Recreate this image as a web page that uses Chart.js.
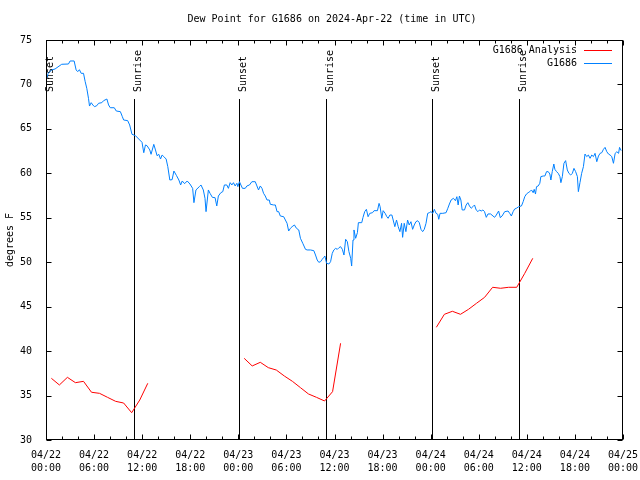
<!DOCTYPE html>
<html>
<head>
<meta charset="utf-8">
<script src="https://cdn.jsdelivr.net/npm/chart.js@4"></script>
<style>
  body { margin: 0; background: #fff; }
</style>
</head>
<body>
<canvas id="c" width="640" height="480"></canvas>
<script>
// hours since 04/22 00:00 UTC
var blueHours = [0.00,0.28,0.70,1.13,1.96,2.80,3.01,3.51,3.76,3.96,4.17,4.39,4.68,4.89,5.09,5.30,5.43,5.64,5.84,6.05,6.34,6.56,6.97,7.18,7.60,7.81,8.02,8.52,8.77,9.28,9.53,9.69,10.19,10.44,10.73,11.16,11.57,11.98,12.20,12.41,12.61,12.95,13.11,13.45,13.66,13.86,14.08,14.29,14.49,14.70,14.99,15.20,15.45,15.74,15.96,16.29,16.58,16.80,17.00,17.30,17.62,17.96,18.30,18.46,18.71,19.13,19.34,19.63,19.84,19.97,20.26,20.47,20.76,21.10,21.31,21.51,21.81,22.06,22.26,22.56,22.76,22.98,23.19,23.39,23.60,23.82,23.94,24.14,24.32,24.52,24.86,25.07,25.39,25.69,26.11,26.32,26.52,26.74,26.95,27.15,27.36,27.58,27.86,27.99,28.40,28.62,28.83,29.03,29.24,29.66,29.87,30.08,30.28,30.50,30.71,31.00,31.25,31.54,31.75,32.04,32.38,32.59,33.00,33.42,33.63,33.84,34.04,34.26,34.47,34.67,34.80,35.01,35.30,35.51,35.72,35.92,36.14,36.35,36.55,36.76,36.98,37.18,37.39,37.60,37.80,38.02,38.14,38.31,38.43,38.64,38.86,38.98,39.40,39.56,39.77,39.98,40.19,40.40,40.74,40.94,41.36,41.56,41.69,41.90,42.07,42.32,42.53,42.69,42.91,43.16,43.32,43.53,43.74,43.95,44.16,44.37,44.50,44.70,44.91,45.12,45.32,45.54,45.75,45.95,46.16,46.38,46.58,46.79,47.00,47.20,47.42,47.63,47.83,48.04,48.26,48.46,48.67,48.88,49.01,49.17,49.51,49.92,50.14,50.34,50.55,50.84,51.09,51.27,51.43,51.59,51.77,51.93,52.22,52.43,52.64,52.84,53.06,53.27,53.47,53.68,53.90,54.10,54.31,54.52,54.72,54.94,55.15,55.48,55.78,55.98,56.19,56.48,56.69,56.91,57.24,57.66,57.86,58.07,58.29,58.49,58.70,58.99,59.33,59.54,59.74,59.95,60.16,60.37,60.58,60.79,60.92,61.08,61.21,61.42,61.62,61.75,62.04,62.25,62.46,62.67,62.87,63.00,63.17,63.37,63.50,63.71,63.92,64.13,64.25,64.43,64.63,64.84,65.05,65.25,65.47,65.68,65.88,66.09,66.31,66.43,66.63,66.84,67.06,67.26,67.47,67.68,67.89,68.10,68.31,68.51,68.73,68.94,69.14,69.35,69.56,69.76,69.98,70.19,70.39,70.60,70.81,71.02,71.23,71.45,71.57,71.77];
var blueValues = [70.50,71.25,71.63,71.74,72.27,72.30,72.64,72.64,71.63,71.44,71.66,71.25,71.25,70.31,69.56,68.44,67.57,67.95,67.69,67.50,67.61,67.88,67.95,68.17,68.36,67.69,67.38,67.38,67.01,66.94,66.37,66.00,65.93,65.44,64.39,64.24,63.86,63.49,62.32,63.19,63.11,62.63,62.14,63.26,62.63,61.98,62.14,61.61,62.06,61.88,61.61,60.75,59.25,59.29,60.26,59.74,59.25,58.69,59.14,58.84,59.14,58.80,58.31,56.70,58.13,58.50,58.69,58.13,57.19,55.69,58.13,57.75,57.30,57.26,56.33,57.45,57.82,57.94,58.69,58.69,58.31,58.95,58.69,58.95,58.58,58.88,58.50,59.06,58.69,58.31,58.31,58.58,58.69,59.06,59.06,58.58,58.13,58.58,58.31,57.75,57.45,57.00,57.00,56.52,56.44,56.44,55.69,55.69,55.20,55.12,54.75,54.38,53.51,53.82,54.00,54.19,53.82,53.63,52.69,52.13,51.45,51.38,51.38,51.30,50.81,50.25,49.99,50.06,50.33,50.55,50.70,49.88,49.80,50.06,51.00,51.38,51.56,51.45,51.63,51.75,51.45,50.81,52.58,52.31,51.19,50.44,49.57,52.50,53.63,52.69,53.33,54.45,54.45,55.05,55.69,55.95,55.12,55.50,55.57,55.80,55.80,56.62,56.25,54.94,55.80,55.50,55.12,54.94,55.31,55.31,54.75,54.00,54.75,54.00,53.44,54.38,52.80,54.38,53.44,54.75,54.19,54.56,53.70,54.19,54.56,54.67,54.45,53.70,53.44,53.70,54.38,55.50,55.57,55.69,55.50,55.95,55.50,55.39,54.83,55.50,55.50,55.57,56.07,56.55,57.00,57.19,56.92,57.37,56.44,57.45,57.00,55.88,55.88,56.44,56.70,56.33,56.07,56.25,56.44,55.88,55.69,55.88,55.76,55.88,55.69,55.05,55.43,55.43,55.20,55.05,55.31,55.76,55.01,55.20,55.69,55.76,55.50,55.20,55.69,55.99,56.07,56.25,56.33,56.81,57.37,57.67,57.82,57.94,58.13,57.82,58.20,57.67,58.50,58.58,58.88,59.63,59.70,59.70,60.19,60.19,59.93,59.25,60.19,61.05,60.45,60.19,60.00,59.63,58.95,59.63,61.13,61.43,60.38,60.00,59.81,60.00,60.56,60.19,59.63,57.94,58.95,60.00,60.75,62.17,61.88,62.06,61.69,62.06,61.88,62.25,61.31,61.95,62.25,62.32,62.70,62.92,62.43,62.17,62.06,61.88,61.13,62.25,62.43,62.25,62.92,62.55];

var redHoursA = [0.67,1.67,2.67,3.67,4.68,5.68,6.68,7.68,8.69,9.69,10.69,11.70,12.70];
var redValuesA = [36.94,36.19,37.05,36.45,36.60,35.37,35.25,34.80,34.35,34.16,33.07,34.50,36.38];
var redHoursB = [24.73,25.73,26.74,27.74,28.74,29.74,30.75,31.75,32.75,33.75,34.76,35.76,36.76];
var redValuesB = [39.19,38.33,38.74,38.14,37.87,37.20,36.60,35.89,35.18,34.80,34.39,35.44,40.88];
var redHoursC = [48.71,49.71,50.71,51.72,52.72,53.72,54.73,55.73,56.73,57.73,58.74,59.74,60.74];
var redValuesC = [42.68,44.14,44.48,44.14,44.70,45.38,46.05,47.18,47.07,47.18,47.18,48.75,50.44];

var sunsetHours = [0.05, 24.14, 48.20];
var sunriseHours = [10.98, 34.92, 58.99];

var yTicks = [30,35,40,45,50,55,60,65,70,75];

var FONT = "'DejaVu Sans Mono', 'Liberation Mono', monospace";

function pts(hours, vals) {
  return hours.map(function (h, i) { return { x: h, y: vals[i] }; });
}

var redPoints = pts(redHoursA, redValuesA)
  .concat([{ x: 18, y: null }])
  .concat(pts(redHoursB, redValuesB))
  .concat([{ x: 42, y: null }])
  .concat(pts(redHoursC, redValuesC));

function pad(n) { return (n < 10 ? '0' : '') + n; }

// gnuplot style extras: inward ticks, frame, sun lines, legend, titles
var overlay = {
  id: 'overlay',
  beforeDatasetsDraw: function (chart) {
    var c = chart.ctx, a = chart.chartArea, xs = chart.scales.x;
    c.save();
    c.strokeStyle = '#000';
    c.lineWidth = 1;
    c.fillStyle = '#000';
    c.font = '10px ' + FONT;
    function mark(h, name) {
      var px = Math.round(xs.getPixelForValue(h)) + 0.5;
      c.beginPath();
      c.moveTo(px, 99);
      c.lineTo(px, a.bottom);
      c.stroke();
      c.save();
      c.translate(px + 6, 92);
      c.rotate(-Math.PI / 2);
      c.textAlign = 'left';
      c.textBaseline = 'alphabetic';
      c.fillText(name, 0, 0);
      c.restore();
    }
    sunsetHours.forEach(function (h) { mark(h, 'Sunset'); });
    sunriseHours.forEach(function (h) { mark(h, 'Sunrise'); });
    c.restore();
  },
  afterDraw: function (chart) {
    var c = chart.ctx, a = chart.chartArea, xs = chart.scales.x, ys = chart.scales.y;
    c.save();
    c.strokeStyle = '#000';
    c.lineWidth = 1;
    var L = Math.round(a.left) + 0.5, R = Math.round(a.right) - 0.5;
    var T = Math.round(a.top) + 0.5, B = Math.round(a.bottom) - 0.5;
    c.strokeRect(L, T, R - L, B - T);
    c.beginPath();
    for (var h = 0; h <= 72; h += 2) {
      var px = Math.round(xs.getPixelForValue(h)) + 0.5;
      var len = (h % 6 === 0) ? 5 : 3;
      c.moveTo(px, B); c.lineTo(px, B - len);
      c.moveTo(px, T); c.lineTo(px, T + len);
    }
    yTicks.forEach(function (v) {
      var py = Math.round(ys.getPixelForValue(v)) + 0.5;
      c.moveTo(L, py); c.lineTo(L + 5, py);
      c.moveTo(R, py); c.lineTo(R - 5, py);
    });
    c.stroke();

    c.fillStyle = '#000';
    c.font = '10px ' + FONT;
    c.textAlign = 'center';
    c.textBaseline = 'middle';
    c.fillText('Dew Point for G1686 on 2024-Apr-22 (time in UTC)', 332, 19);

    c.save();
    c.translate(10, 240);
    c.rotate(-Math.PI / 2);
    c.fillText('degrees F', 0, 0);
    c.restore();

    // legend, text right aligned with sample on the right
    chart.data.datasets.forEach(function (ds, i) {
      var ly = 50 + i * 13;
      c.textAlign = 'right';
      c.fillStyle = '#000';
      c.fillText(ds.label, 577, ly);
      c.strokeStyle = ds.borderColor;
      c.beginPath();
      c.moveTo(584, Math.round(ly) + 0.5);
      c.lineTo(612, Math.round(ly) + 0.5);
      c.stroke();
    });
    c.restore();
  }
};

var chart = new Chart(document.getElementById('c').getContext('2d'), {
  type: 'line',
  data: {
    datasets: [{
      label: 'G1686 Analysis',
      data: redPoints,
      borderColor: '#ff0000',
      borderWidth: 1,
      pointRadius: 0,
      tension: 0,
      spanGaps: false
    }, {
      label: 'G1686',
      data: pts(blueHours, blueValues),
      borderColor: '#0080ff',
      borderWidth: 1,
      pointRadius: 0,
      tension: 0
    }]
  },
  options: {
    responsive: false,
    animation: false,
    devicePixelRatio: 1,
    layout: { padding: { top: 40, right: 17, left: 0, bottom: 0 } },
    plugins: {
      legend: { display: false },
      title: { display: false },
      tooltip: { enabled: false }
    },
    scales: {
      x: {
        type: 'linear',
        min: 0,
        max: 72,
        afterFit: function (s) { s.height = 40; },
        grid: { display: false },
        border: { display: false },
        ticks: {
          stepSize: 6,
          padding: 1,
          autoSkip: false,
          maxRotation: 0,
          color: '#000',
          font: { family: FONT, size: 10, lineHeight: 1.3 },
          callback: function (v) {
            var day = 22 + Math.floor(v / 24);
            return ['04/' + day, pad(v % 24) + ':00'];
          }
        }
      },
      y: {
        min: 30,
        max: 75,
        afterFit: function (s) { s.width = 46; },
        grid: { display: false },
        border: { display: false },
        ticks: {
          stepSize: 5,
          padding: 6,
          color: '#000',
          font: { family: FONT, size: 10 }
        }
      }
    }
  },
  plugins: [overlay]
});
</script>
</body>
</html>
